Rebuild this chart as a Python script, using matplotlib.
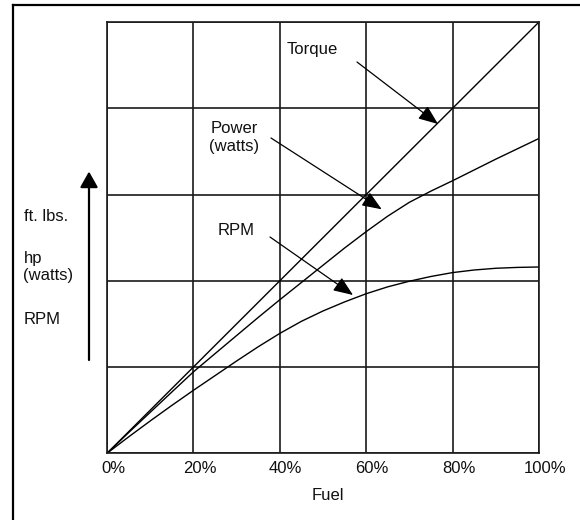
import matplotlib
matplotlib.use('Agg')
import matplotlib.pyplot as plt
from matplotlib import transforms
from matplotlib.patches import FancyArrowPatch, ArrowStyle
from matplotlib.lines import Line2D

plt.rcParams['font.family'] = ['Liberation Sans', 'DejaVu Sans']

# ---- data ----
fuel_torque = [0, 100]
torque = [0, 5.0]

fuel = [0, 5, 10, 15, 20, 25, 30, 35, 40, 45, 50, 55, 60, 65, 70, 75, 80, 85, 90, 95, 100]
power = [0, 0.24, 0.475, 0.71, 0.944, 1.155, 1.365, 1.575, 1.78, 1.98, 2.18, 2.38,
         2.57, 2.75, 2.91, 3.04, 3.16, 3.285, 3.41, 3.53, 3.65]
rpm = [0, 0.19, 0.375, 0.555, 0.73, 0.9, 1.07, 1.235, 1.39, 1.53, 1.65, 1.755,
       1.85, 1.93, 1.995, 2.05, 2.095, 2.125, 2.145, 2.155, 2.16]

x_ticks = [0, 20, 40, 60, 80, 100]
x_tick_labels = ['0%', '20%', '40%', '60%', '80%', '100%']
y_ticks = [0, 1, 2, 3, 4, 5]

W, H = 580, 520
fig = plt.figure(figsize=(W / 100, H / 100), dpi=100)
fig.patch.set_facecolor('white')


def px(x, y):
    return (x / W, 1 - y / H)


ax = fig.add_axes([107 / W, 1 - 453.3 / H, 432 / W, 431.3 / H])
ax.set_xlim(0, 100)
ax.set_ylim(0, 5)
ax.set_xticks(x_ticks)
ax.set_yticks(y_ticks)
ax.tick_params(length=0, labelbottom=False, labelleft=False)
ax.grid(True, color='#1a1a1a', lw=1.2)
for s in ax.spines.values():
    s.set_color('#1a1a1a')
    s.set_linewidth(1.2)

ax.plot(fuel_torque, torque, color='black', lw=1.0)
ax.plot(fuel, power, color='black', lw=1.0)
ax.plot(fuel, rpm, color='black', lw=1.0)

# tick labels (numbers centred on grid lines, shifted slightly right)
trans = transforms.blended_transform_factory(ax.transData, ax.transAxes) + \
    transforms.ScaledTranslation(6.0 / 100, -20 / 100, fig.dpi_scale_trans)
for xv, lab in zip(x_ticks, x_tick_labels):
    ax.text(xv, 0, lab, transform=trans, ha='center', va='baseline',
            fontsize=12, color='#111111', clip_on=False)

fig.text(*px(327.5, 500.5), 'Fuel', ha='center', va='baseline', fontsize=12, color='#111111')

# left labels
fig.text(*px(23.5, 221), 'ft. lbs.', ha='left', va='baseline', fontsize=12, color='#111111')
fig.text(*px(23.5, 262.7), 'hp', ha='left', va='baseline', fontsize=12, color='#111111')
fig.text(*px(23.5, 280), '(watts)', ha='left', va='baseline', fontsize=12, color='#111111')
fig.text(*px(23.5, 324.3), 'RPM', ha='left', va='baseline', fontsize=12, color='#111111')

# big vertical arrow
big = FancyArrowPatch(px(89, 360), px(89, 171.5), transform=fig.transFigure,
                      arrowstyle=ArrowStyle('-|>', head_length=0.96, head_width=0.54),
                      mutation_scale=10, lw=1.6, color='black',
                      shrinkA=0, shrinkB=0)
fig.add_artist(big)

# curve labels
fig.text(*px(287, 54.3), 'Torque', ha='left', va='baseline', fontsize=12, color='#111111')
fig.text(*px(234, 133), 'Power', ha='center', va='baseline', fontsize=12, color='#111111')
fig.text(*px(234, 150.5), '(watts)', ha='center', va='baseline', fontsize=12, color='#111111')
fig.text(*px(236, 235), 'RPM', ha='center', va='baseline', fontsize=12, color='#111111')

style = ArrowStyle('-|>', head_length=1.2, head_width=0.48)
for a, b in [((357, 62), (438, 124)),
             ((271, 138), (381.7, 209.3)),
             ((270, 237), (353, 295))]:
    arr = FancyArrowPatch(px(*a), px(*b), transform=fig.transFigure,
                          arrowstyle=style, mutation_scale=10, lw=0.9,
                          color='black', shrinkA=0, shrinkB=0)
    fig.add_artist(arr)

# outer frame (left and top edges)
fig.add_artist(Line2D([13.3 / W, 13.3 / W], [0, 1 - 5 / H], transform=fig.transFigure,
                      lw=1.6, color='black', solid_capstyle='projecting'))
fig.add_artist(Line2D([13.3 / W, 1], [1 - 5 / H, 1 - 5 / H], transform=fig.transFigure,
                      lw=1.6, color='black', solid_capstyle='projecting'))

fig.savefig('out.png', dpi=100, facecolor='white')
